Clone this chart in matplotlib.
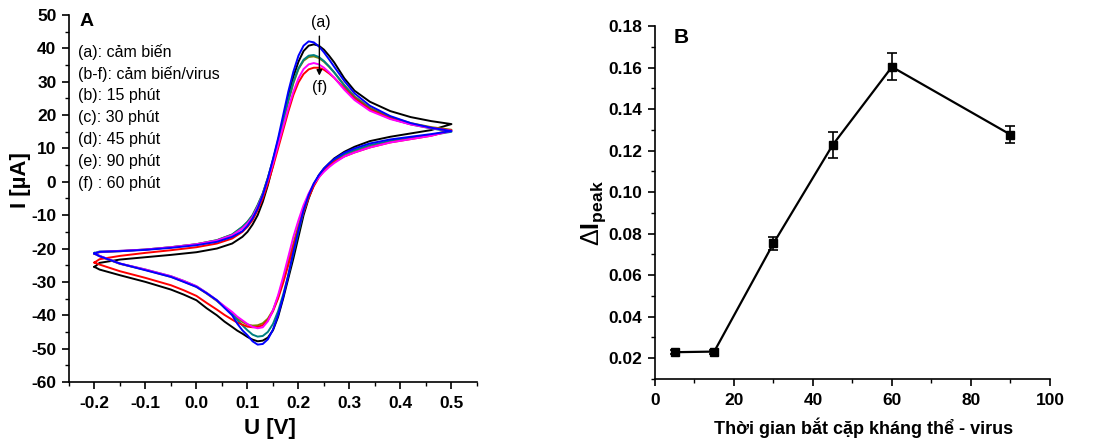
import matplotlib
matplotlib.use("Agg")
import matplotlib.pyplot as plt
from matplotlib.ticker import MultipleLocator, FormatStrFormatter

plt.rcParams['font.family'] = ['Liberation Sans', 'DejaVu Sans']
plt.rcParams['mathtext.fontset'] = 'custom'
plt.rcParams['mathtext.rm'] = 'Liberation Sans'
plt.rcParams['mathtext.bf'] = 'Liberation Sans:bold'
plt.rcParams['axes.unicode_minus'] = False

# ---- Panel A: cyclic voltammograms ----
# potentials of the forward (anodic) scan, -0.2 -> 0.5 V
E_fwd = [-0.2, -0.19, -0.15, -0.1, -0.05, 0.0, 0.04, 0.07, 0.09, 0.1, 0.11, 0.12,
         0.13, 0.14, 0.15, 0.16, 0.17, 0.18, 0.19, 0.2, 0.21, 0.22, 0.23, 0.24,
         0.25, 0.26, 0.27, 0.29, 0.31, 0.34, 0.38, 0.42, 0.46, 0.5]
# potentials of the reverse (cathodic) scan, 0.5 -> -0.2 V
E_rev = [0.5, 0.46, 0.42, 0.38, 0.34, 0.31, 0.29, 0.27, 0.26, 0.25, 0.24, 0.23,
         0.22, 0.21, 0.2, 0.19, 0.18, 0.17, 0.16, 0.15, 0.14, 0.13, 0.12, 0.11,
         0.1, 0.09, 0.08, 0.07, 0.055, 0.04, 0.02, 0.0, -0.025, -0.05, -0.1, -0.15, -0.19, -0.2]

# currents (uA)
black_fwd = [-25.5, -24.3, -23.3, -22.6, -21.9, -21.1, -20.0, -18.5, -16.5, -15.0, -12.8, -10.0,
             -6.0, -1.0, 5.0, 11.5, 18.5, 25.5, 31.5, 36.0, 39.2, 40.8, 41.2, 40.8,
             39.6, 37.8, 35.8, 31.0, 27.3, 24.0, 21.2, 19.4, 18.2, 17.3]
black_rev = [17.3, 15.5, 14.5, 13.5, 12.2, 10.5, 9.0, 7.0, 5.5, 4.0, 2.0, -1.0,
             -5.0, -10.0, -16.5, -23.0, -29.0, -35.0, -40.5, -44.5, -46.7, -47.6, -47.8, -47.3,
             -46.5, -45.5, -44.6, -43.5, -41.9, -40.0, -37.9, -35.5, -33.8, -32.3, -30.0, -28.0, -26.3, -25.5]

blue_fwd = [-21.5, -21.0, -20.8, -20.4, -19.8, -19.0, -18.0, -16.5, -14.8, -13.2, -11.0, -8.0,
            -4.0, 1.0, 6.8, 13.0, 20.0, 27.0, 33.0, 37.8, 40.8, 42.1, 41.8, 40.6,
            38.8, 36.7, 34.5, 30.2, 26.5, 22.8, 19.7, 17.6, 16.2, 15.2]
blue_rev = [15.2, 14.3, 13.5, 12.7, 11.5, 10.0, 8.7, 6.8, 5.5, 4.0, 2.0, -0.5,
            -4.0, -8.5, -14.5, -21.0, -28.0, -34.5, -40.0, -44.3, -47.2, -48.6, -48.8, -47.8,
            -46.0, -44.5, -42.5, -40.0, -37.8, -35.5, -33.4, -31.5, -30.0, -28.5, -26.5, -24.5, -22.3, -21.5]

teal_fwd = [-21.3, -20.9, -20.7, -20.3, -19.6, -18.7, -17.5, -15.8, -13.5, -12.0, -10.0, -7.0,
            -3.5, 1.2, 6.5, 12.5, 18.5, 24.5, 30.0, 34.0, 36.6, 37.8, 38.0, 37.4,
            36.2, 34.6, 32.8, 28.8, 25.3, 21.8, 19.0, 17.2, 16.0, 15.0]
teal_rev = [15.0, 14.0, 13.2, 12.3, 11.0, 9.5, 8.3, 6.5, 5.3, 3.8, 1.8, -0.8,
            -4.5, -9.0, -15.0, -21.5, -28.0, -33.8, -38.8, -42.6, -45.0, -46.2, -46.4, -45.8,
            -44.5, -43.0, -41.4, -39.5, -37.5, -35.5, -33.3, -31.3, -29.7, -28.3, -26.3, -24.5, -22.2, -21.3]

olive_fwd = [-21.6, -21.1, -20.8, -20.3, -19.6, -18.7, -17.5, -15.8, -13.5, -12.0, -10.0, -7.0,
             -3.5, 1.2, 6.5, 12.0, 18.0, 24.0, 29.5, 33.8, 36.3, 37.4, 37.6, 37.1,
             36.0, 34.5, 32.8, 29.0, 25.6, 22.2, 19.4, 17.6, 16.4, 15.6]
olive_rev = [15.6, 14.0, 13.0, 12.0, 10.5, 9.0, 7.8, 6.2, 5.0, 3.6, 1.8, -0.6,
             -3.8, -8.0, -13.0, -18.5, -24.0, -29.5, -34.5, -38.5, -41.0, -42.4, -43.0, -43.1,
             -42.8, -42.0, -40.9, -39.5, -37.6, -35.7, -33.5, -31.5, -29.9, -28.5, -26.4, -24.6, -22.3, -21.6]

magenta_fwd = [-21.5, -21.0, -20.7, -20.3, -19.6, -18.7, -17.6, -16.0, -14.0, -12.5, -10.5, -7.5,
               -4.0, 0.5, 5.5, 11.0, 16.5, 22.0, 27.0, 31.0, 33.8, 35.2, 35.6, 35.2,
               34.2, 32.8, 31.2, 27.6, 24.5, 21.3, 18.8, 17.2, 16.1, 15.3]
magenta_rev = [15.3, 13.8, 12.8, 11.8, 10.3, 8.8, 7.6, 5.6, 4.4, 3.0, 1.4, -0.7,
               -3.5, -7.0, -11.5, -16.5, -22.5, -28.5, -34.0, -38.5, -41.8, -43.6, -43.9, -43.5,
               -42.6, -41.5, -40.4, -39.0, -37.3, -35.5, -33.3, -31.3, -29.7, -28.3, -26.3, -24.5, -22.2, -21.5]

red_fwd = [-24.2, -23.2, -22.2, -21.3, -20.5, -19.6, -18.5, -17.0, -15.0, -13.5, -11.5, -8.5,
           -5.0, -0.5, 4.5, 10.0, 15.5, 21.0, 26.0, 29.8, 32.3, 33.7, 34.2, 34.2,
           33.6, 32.5, 31.2, 28.0, 25.0, 21.7, 19.0, 17.3, 16.2, 15.4]
red_rev = [15.4, 13.8, 12.8, 11.8, 10.3, 8.8, 7.6, 6.0, 4.8, 3.3, 1.3, -1.3,
           -4.7, -9.0, -14.0, -19.5, -25.0, -30.3, -35.0, -38.8, -41.5, -43.0, -43.5, -43.6,
           -43.4, -42.8, -42.2, -41.3, -39.9, -38.3, -36.3, -34.2, -32.5, -31.0, -28.8, -26.8, -24.8, -24.2]

cv_curves = [
    (black_fwd, black_rev, '#000000'),
    (olive_fwd, olive_rev, '#808000'),
    (teal_fwd, teal_rev, '#008080'),
    (red_fwd, red_rev, '#ff0000'),
    (magenta_fwd, magenta_rev, '#ff00ff'),
    (blue_fwd, blue_rev, '#0000ff'),
]

legend_lines = ["(a): cảm biến", "(b-f): cảm biến/virus", "(b): 15 phút",
                "(c): 30 phút", "(d): 45 phút", "(e): 90 phút", "(f) : 60 phút"]

# ---- Panel B: delta I peak vs binding time ----
time_min = [5, 15, 30, 45, 60, 90]
delta_ipeak = [0.0229, 0.0232, 0.0753, 0.1227, 0.1603, 0.1277]
delta_err = [0.0010, 0.0010, 0.0033, 0.0064, 0.0065, 0.0039]

fig = plt.figure(figsize=(10.98, 4.41), dpi=100)
fig.patch.set_facecolor('white')

axA = fig.add_axes([0.0628, 0.1338, 0.3716, 0.8322])
axB = fig.add_axes([0.5965, 0.1406, 0.3597, 0.8005])

def style_axis(ax):
    for side in ['top', 'right']:
        ax.spines[side].set_visible(False)
    for side in ['left', 'bottom']:
        ax.spines[side].set_linewidth(1.2)
    ax.tick_params(which='major', direction='out', length=5, width=1.2, labelsize=12.5, pad=4)
    ax.tick_params(axis='x', which='major', pad=5)
    ax.tick_params(which='minor', direction='out', length=3, width=1.0)
    for lab in ax.get_xticklabels() + ax.get_yticklabels():
        lab.set_fontweight('bold')

# Panel A
for fwd, rev, col in cv_curves:
    axA.plot(E_fwd + E_rev, fwd + rev, color=col, lw=1.4, solid_joinstyle='round')

axA.set_xlim(-0.25, 0.55)
axA.set_ylim(-60, 50)
axA.xaxis.set_minor_locator(MultipleLocator(0.05))
axA.yaxis.set_major_locator(MultipleLocator(10))
axA.yaxis.set_minor_locator(MultipleLocator(5))
axA.set_xticks([-0.2, -0.1, 0.0, 0.1, 0.2, 0.3, 0.4, 0.5])
axA.xaxis.set_major_formatter(FormatStrFormatter('%.1f'))
style_axis(axA)
axA.set_xlabel('U [V]', fontsize=16, fontweight='bold')
axA.set_ylabel('I [µA]', fontsize=16, fontweight='bold')
axA.xaxis.set_label_coords(0.493, -0.098)
axA.yaxis.set_label_coords(-0.094, 0.55)

axA.text(0.044, 0.981, 'A', transform=axA.transAxes, fontsize=14, fontweight='bold',
         ha='center', va='center')
for i, line in enumerate(legend_lines):
    y_px = 52 + 22 * i
    axA.text(0.022, (382 - y_px) / 367, line, transform=axA.transAxes,
             fontsize=11.5, ha='left', va='center')

axA.annotate('', xy=(0.241, 31.0), xytext=(0.241, 44.5),
             arrowprops=dict(arrowstyle='-|>', color='black', lw=1.0, mutation_scale=8))
axA.text(0.2435, 47.8, '(a)', fontsize=11.5, ha='center', va='center')
axA.text(0.241, 28.3, '(f)', fontsize=11.5, ha='center', va='center')

# Panel B
axB.errorbar(time_min, delta_ipeak, yerr=delta_err, color='black', lw=1.6,
             marker='s', markersize=5.5, capsize=3.5, elinewidth=1.2, capthick=1.2)
axB.set_xlim(0, 100)
axB.set_ylim(0.01, 0.18)
axB.xaxis.set_major_locator(MultipleLocator(20))
axB.xaxis.set_minor_locator(MultipleLocator(10))
axB.yaxis.set_minor_locator(MultipleLocator(0.01))
axB.set_yticks([0.02, 0.04, 0.06, 0.08, 0.10, 0.12, 0.14, 0.16, 0.18])
axB.yaxis.set_major_formatter(FormatStrFormatter('%.2f'))
style_axis(axB)
axB.set_xlabel('Thời gian bắt cặp kháng thể - virus', fontsize=13, fontweight='bold')
axB.set_ylabel(r'Δ$\mathbf{I}_{\mathbf{peak}}$', fontsize=18)
axB.xaxis.set_label_coords(0.527, -0.11)
axB.yaxis.set_label_coords(-0.12, 0.47)
axB.text(0.066, 0.966, 'B', transform=axB.transAxes, fontsize=15, fontweight='bold',
         ha='center', va='center')

fig.savefig('out.png', dpi=100, facecolor='white')
